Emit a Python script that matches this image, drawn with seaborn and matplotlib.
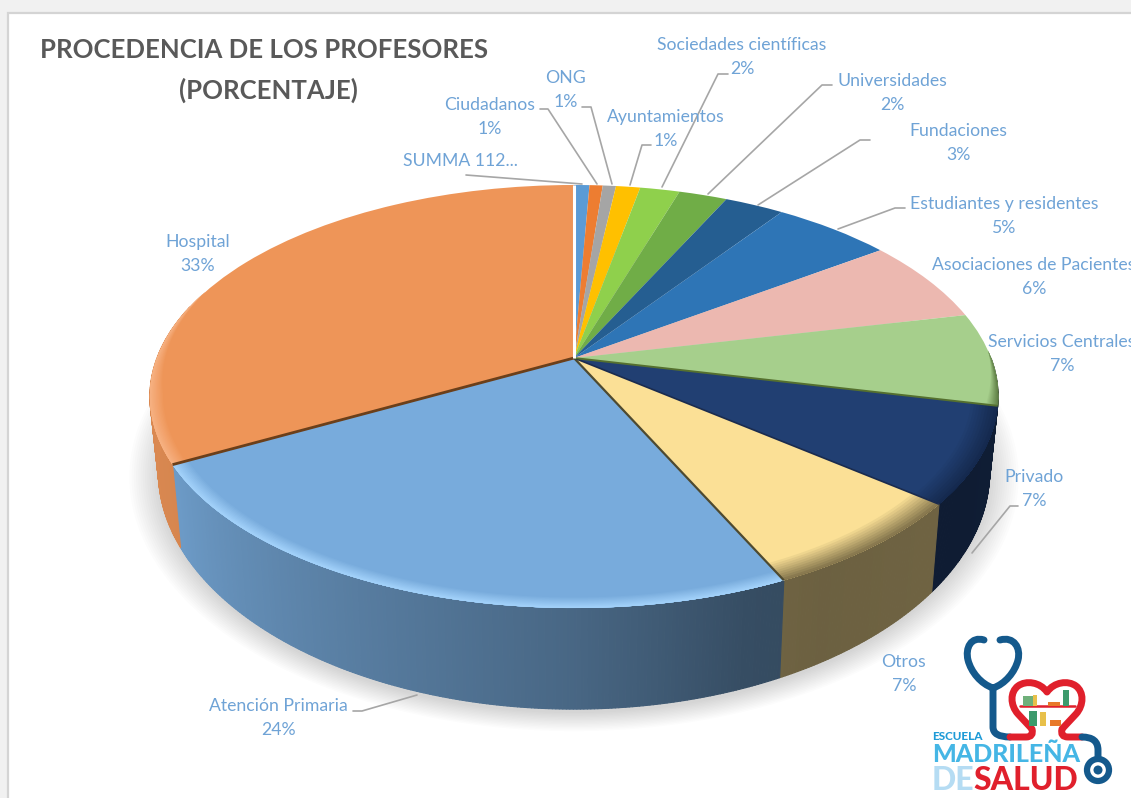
import numpy as np
import matplotlib
matplotlib.use("Agg")
import matplotlib.pyplot as plt
import matplotlib.transforms as mtransforms
from matplotlib.collections import PolyCollection
from matplotlib.colors import to_rgb
from matplotlib.patches import Circle, PathPatch, Rectangle
from matplotlib.path import Path
import seaborn as sns

# datos, en sentido horario desde las 12
names = ["SUMMA 112...", "Ciudadanos", "ONG", "Ayuntamientos", "Sociedades científicas",
         "Universidades", "Fundaciones", "Estudiantes y residentes", "Asociaciones de Pacientes",
         "Servicios Centrales", "Privado", "Otros", "Atención Primaria", "Hospital"]
values = [0.7, 0.6, 0.6, 1.1, 1.8, 2.2, 2.7, 5.4, 6.4, 7.1, 7.3, 7.2, 24.0, 32.9]
colors = ["#5b9bd5", "#ed7d31", "#a5a5a5", "#ffc000", "#8fd04c", "#70ad47", "#255e91",
          "#2e75b6", "#ecb8b0", "#a6cf8c", "#213f72", "#fbe096", "#78abdc", "#ee9558"]

# posicion de cada etiqueta (centro) y su linea guia
label_pos = {
    "SUMMA 112...": (460, 161), "Ciudadanos": (490, 117), "ONG": (566, 90),
    "Ayuntamientos": (666, 129), "Sociedades científicas": (742, 57), "Universidades": (892, 93),
    "Fundaciones": (958, 143), "Estudiantes y residentes": (1004, 216),
    "Asociaciones de Pacientes": (1034, 277), "Servicios Centrales": (1062, 354),
    "Privado": (1034, 489), "Otros": (904, 674), "Atención Primaria": (278, 718), "Hospital": (198, 254),
}
leaders = [
    [(466, 175), (582, 184)],
    [(540, 109), (548, 109), (597, 184)],
    [(582, 107), (591, 107), (612, 184)],
    [(651, 145), (642, 145), (630, 185)],
    [(728, 74), (718, 74), (662, 187)],
    [(832, 85), (822, 85), (708, 194)],
    [(870, 140), (860, 140), (758, 205)],
    [(905, 208), (895, 208), (838, 229)],
    [(1018, 506), (1010, 506), (972, 553)],
    [(353, 711), (362, 711), (417, 695)],
]

CX, CY, A, B, K = 574, 358, 204.5, 417, 0.182


def project(x, y, depth=0.0):
    w = 1 + K * y
    s = 1 - 0.02 * depth
    return CX + s * B * x / w, CY - s * A * y / w + depth * 71 / w ** 2


class TopPlane(mtransforms.Transform):
    input_dims = 2
    output_dims = 2

    def transform_non_affine(self, xy):
        xy = np.asarray(xy)
        px, py = project(xy[:, 0], xy[:, 1])
        return np.column_stack([px, py])


sns.set_theme(style="white")
plt.rcParams["font.family"] = ["Lato", "DejaVu Sans"]

fig = plt.figure(figsize=(11.31, 7.98), dpi=100, facecolor="#f1f1f1")
ax = fig.add_axes([0, 0, 1, 1])

wedges, _ = ax.pie(values, colors=colors, startangle=90, counterclock=False, radius=1)
ax.set_aspect("auto")
ax.set_xlim(0, 1131)
ax.set_ylim(798, 0)
ax.set_axis_off()

ax.add_patch(Rectangle((8, 13), 1200, 900, fc="white", ec="#d4d4d4", lw=1.6, zorder=0))

plane = TopPlane() + ax.transData
for w in wedges:
    w.set_transform(plane)
    w.set_zorder(3)
    w.set_linewidth(0)

edges = np.concatenate([[0], np.cumsum(values)]) / np.sum(values) * 360

# sombra
t = np.radians(np.linspace(0, 360, 240))
sx, sy = project(np.sin(t), np.cos(t), 1.0)
for f in np.linspace(1.07, 1.0, 14):
    ax.fill(CX + (sx - CX) * f, 450 + (sy - 450) * f + 4, color="black", alpha=0.013, lw=0, zorder=1)

# paredes del cilindro
ang_stops = [90, 150, 160, 180, 210, 240, 280]
shade_stops = [0.47, 0.43, 0.45, 0.6, 0.75, 0.9, 0.93]
quads, quad_cols = [], []
for i, c in enumerate(colors):
    a0, a1 = edges[i], edges[i + 1]
    n = max(2, int((a1 - a0) / 0.4))
    ts = np.linspace(a0, a1, n + 1)
    for u, v in zip(ts[:-1], ts[1:]):
        if (u + v) / 2 < 90 or (u + v) / 2 > 285:
            continue
        ru, rv = np.radians(u), np.radians(v)
        p0 = project(np.sin(ru), np.cos(ru))
        p1 = project(np.sin(rv), np.cos(rv))
        p2 = project(np.sin(rv), np.cos(rv), 1.0)
        p3 = project(np.sin(ru), np.cos(ru), 1.0)
        quads.append([p0, p1, p2, p3])
        f = np.interp((u + v) / 2, ang_stops, shade_stops)
        quad_cols.append(tuple(np.array(to_rgb(c)) * f))
ax.add_collection(PolyCollection(quads, facecolors=quad_cols, edgecolors=quad_cols, linewidths=0.8, zorder=2))

# bisel del borde: color, ancho, y desde donde se desvanece
rim_style = {
    "Servicios Centrales": ("#5f7f45", 0.975, 88, None),
    "Privado": ("#14284c", 0.94, None, None),
    "Otros": ("#7d6f48", 0.935, None, None),
    "Atención Primaria": ("#a4d3fb", 0.965, None, None),
    "Hospital": ("#f7b283", 0.97, None, 290),
}
for name, (target, rmin, fade_in, fade_out) in rim_style.items():
    i = names.index(name)
    a0, a1 = edges[i], edges[i + 1]
    if fade_in is not None:
        a0 = fade_in
    if fade_out is not None:
        a1 = fade_out
    ang = np.linspace(a0, a1, 90)
    taper = np.ones_like(ang)
    if fade_in is not None:
        taper = np.clip((ang - a0) / 14, 0, 1)
    if fade_out is not None:
        taper = np.clip((a1 - ang) / 30, 0, 1)
    ts = np.radians(ang)
    base, tgt = np.array(to_rgb(colors[i])), np.array(to_rgb(target))
    for q, r in zip(np.linspace(0.1, 1, 10), np.linspace(rmin, 0.9985, 10)):
        rr = 1 - (1 - r) * taper
        ox, oy = project(np.sin(ts), np.cos(ts))
        ix, iy = project(rr * np.sin(ts), rr * np.cos(ts))
        ax.fill(np.r_[ox, ix[::-1]], np.r_[oy, iy[::-1]], color=tuple(base + (tgt - base) * q), lw=0, zorder=4)

# lineas entre porciones
edge_lines = {13: ("#6b3f1a", 2.0), 12: ("#4e4a30", 1.6), 11: ("#1a2b4e", 1.2), 10: ("#55702f", 1.4), 14: ("#ffffff", 2.2)}
for idx, (col, lw) in edge_lines.items():
    r = np.radians(edges[idx])
    px, py = project(np.array([0, np.sin(r)]), np.array([0, np.cos(r)]))
    ax.plot(px, py, color=col, lw=lw, zorder=5, solid_capstyle="butt")

# etiquetas
label_color = "#6fa3d6"
for name, v in zip(names, values):
    x, y = label_pos[name]
    txt = name if name.endswith("...") else f"{name}\n{v:.0f}%"
    ax.text(x, y, txt, ha="center", va="center", color=label_color, fontsize=12.7,
            linespacing=1.58, zorder=7)
for pts in leaders:
    xs, ys = zip(*pts)
    ax.plot(xs, ys, color="#a6a6a6", lw=1.2, zorder=6)

ax.text(264, 50, "PROCEDENCIA DE LOS PROFESORES", ha="center", va="center",
        fontsize=18.5, fontweight="bold", color="#595959", zorder=7)
ax.text(268, 90, "(PORCENTAJE)", ha="center", va="center",
        fontsize=18.5, fontweight="bold", color="#595959", zorder=7)

# logo
navy, red = "#14598c", "#e0202c"
M, C3, C4, L = Path.MOVETO, Path.CURVE3, Path.CURVE4, Path.LINETO


def stroke(verts, codes, col, lw=5.0):
    ax.add_patch(PathPatch(Path(verts, codes), fc="none", ec=col, lw=lw, capstyle="round",
                           joinstyle="round", zorder=8))


stroke([(984, 640), (971, 636), (965, 648), (968, 660), (971, 672), (981, 684), (993, 688),
        (1005, 684), (1015, 672), (1018, 660), (1021, 648), (1014, 636), (1000, 640)],
       [M] + [C4] * 12, navy)
stroke([(993, 688), (993, 727), (993, 737), (1010, 737)], [M, L, C3, C3], navy)
stroke([(1010, 737), (1026, 737), (1034, 737), (1032, 729), (1018, 714),
        (1010, 705), (1010, 692), (1018, 686), (1026, 680), (1040, 682), (1047, 692),
        (1054, 682), (1068, 680), (1076, 686), (1084, 692), (1084, 705), (1076, 714),
        (1062, 729), (1060, 737), (1068, 737), (1082, 737)],
       [M, L, C3, C3, L, C4, C4, C4, C4, C4, C4, C4, C4, C4, C4, C4, C4, L, C3, C3, L], red)
stroke([(1082, 737), (1098, 737), (1098, 750), (1098, 760)], [M, C3, C3, L], navy)
ax.add_patch(Circle((1098, 770), 11, fc="white", ec=navy, lw=4.5, zorder=8))
ax.add_patch(Circle((1098, 770), 4.5, fc=navy, ec="none", zorder=9))
ax.plot([1020, 1075], [706, 706], color=red, lw=1.8, zorder=8)
books = [(1023, 696, 10, 10, "#6fb07a"), (1033, 695, 4, 11, "#e8c04a"), (1048, 702, 12, 4, "#e8792a"),
         (1063, 690, 6, 16, "#3c9a6c"), (1029, 711, 8, 15, "#3c9a6c"), (1040, 712, 6, 14, "#e8c04a"),
         (1050, 720, 11, 6, "#e8792a")]
for bx, by, bw, bh, bc in books:
    ax.add_patch(Rectangle((bx, by), bw, bh, fc=bc, ec="none", zorder=8))
ax.text(932, 737, "ESCUELA", color="#1f9bd7", fontsize=8.5, fontweight="black", va="center", zorder=8)
ax.text(932, 755, "MADRILEÑA", color="#45b6e5", fontsize=18, fontweight="black", va="center", zorder=8)
ax.text(932, 780, "DE", color="#b5dcf3", fontsize=23, fontweight="black", va="center", zorder=8)
ax.text(973, 780, "SALUD", color=red, fontsize=23, fontweight="black", va="center", zorder=8)

fig.savefig("out.png", dpi=100, facecolor=fig.get_facecolor())
